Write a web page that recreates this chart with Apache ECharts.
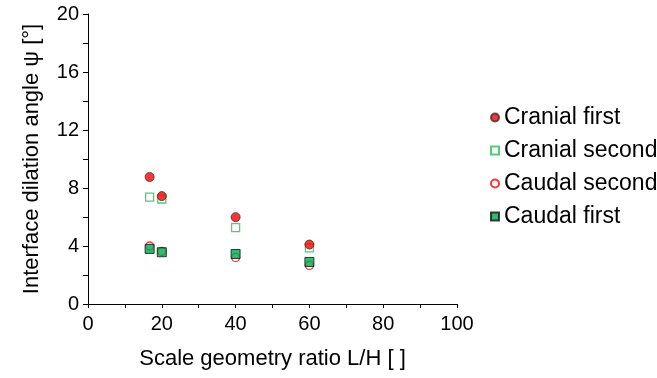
<!DOCTYPE html>
<html>
<head>
<meta charset="utf-8">
<script src="https://cdn.jsdelivr.net/npm/echarts@6/dist/echarts.min.js"></script>
<style>
  html, body { margin: 0; padding: 0; background: #fff; }
  #chart { width: 657px; height: 378px; }
</style>
</head>
<body>
<div id="chart"></div>
<script>
// L/H ratios
var ratios = [16.7, 20, 40, 60];
// dilation angle psi in degrees
var cranialFirst = [8.76, 7.44, 5.99, 4.1];
var cranialSecond = [7.37, 7.24, 5.27, 3.87];
var caudalSecond = [4.0, 3.62, 3.21, 2.66];
var caudalFirst = [3.8, 3.57, 3.45, 2.9];

function pairs(ys) {
  return ratios.map(function (x, i) { return [x, ys[i]]; });
}

var chart = echarts.init(document.getElementById('chart'), null, { renderer: 'canvas' });
var font = '"Liberation Sans", Arial, sans-serif';

var option = {
  backgroundColor: '#fff',
  animation: false,
  textStyle: { fontFamily: font },
  grid: { left: 88, right: 200, top: 14, bottom: 74 },
  legend: {
    orient: 'vertical',
    left: 485,
    top: 101,
    itemWidth: 8,
    itemHeight: 8,
    itemGap: 10,
    textStyle: { fontSize: 23, color: '#000', fontFamily: font },
    data: ['Cranial first', 'Cranial second', 'Caudal second', 'Caudal first']
  },
  xAxis: {
    type: 'value',
    min: 0, max: 100, interval: 20,
    name: 'Scale geometry ratio L/H [ ]',
    nameLocation: 'middle',
    nameGap: 44,
    nameTextStyle: { fontSize: 22, color: '#000', fontFamily: font },
    axisLine: { lineStyle: { color: '#000', width: 1 } },
    axisTick: { show: true, length: 4, lineStyle: { color: '#000' } },
    minorTick: { show: true, splitNumber: 2, length: 4, lineStyle: { color: '#000' } },
    splitLine: { show: false },
    axisLabel: { fontSize: 20, color: '#000', margin: 10, fontFamily: font }
  },
  yAxis: {
    type: 'value',
    min: 0, max: 20, interval: 4,
    name: 'Interface dilation angle ψ [°]',
    nameLocation: 'middle',
    nameGap: 45,
    nameTextStyle: { fontSize: 22, color: '#000', fontFamily: font },
    axisLine: { show: true, lineStyle: { color: '#000', width: 1 } },
    axisTick: { show: true, length: 5, lineStyle: { color: '#000' } },
    minorTick: { show: true, splitNumber: 2, length: 5, lineStyle: { color: '#000' } },
    splitLine: { show: false },
    axisLabel: { fontSize: 20, color: '#000', margin: 9, fontFamily: font }
  },
  series: [
    {
      name: 'Cranial first',
      type: 'scatter',
      z: 4,
      symbol: 'circle',
      symbolSize: 9,
      itemStyle: { color: '#ff0000', borderColor: '#333', borderWidth: 1 },
      data: pairs(cranialFirst)
    },
    {
      name: 'Cranial second',
      type: 'scatter',
      z: 3,
      symbol: 'rect',
      symbolSize: 8,
      itemStyle: { color: '#fff', borderColor: '#22c05a', borderWidth: 1.3 },
      data: pairs(cranialSecond)
    },
    {
      name: 'Caudal second',
      type: 'scatter',
      z: 2,
      symbol: 'circle',
      symbolSize: 8,
      itemStyle: { color: '#fff', borderColor: '#ff0000', borderWidth: 1.3 },
      data: pairs(caudalSecond)
    },
    {
      name: 'Caudal first',
      type: 'scatter',
      z: 5,
      symbol: 'rect',
      symbolSize: 9,
      itemStyle: { color: '#00a84f', borderColor: '#111', borderWidth: 1 },
      data: pairs(caudalFirst)
    }
  ]
};

chart.setOption(option);
</script>
</body>
</html>
